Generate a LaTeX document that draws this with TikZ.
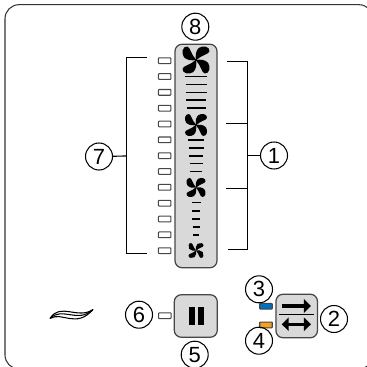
\documentclass[tikz,border=0pt]{standalone}
\usepackage{fontspec}
\setmainfont{Liberation Sans}
\usetikzlibrary{arrows.meta}
\definecolor{panelgray}{RGB}{217,217,217}
\definecolor{edgegray}{RGB}{70,70,70}
\definecolor{ledblue}{RGB}{0,112,192}
\definecolor{ledorange}{RGB}{245,160,30}
\tikzset{
  callout/.style={draw, circle, line width=0.6pt, minimum size=0.54cm, inner sep=0pt, font=\fontsize{12.5}{12.5}\selectfont},
  led/.style={draw=edgegray, fill=white, rectangle, rounded corners=0.4pt, line width=0.6pt, minimum width=0.25cm, minimum height=0.115cm, inner sep=0pt},
  panel/.style={draw=edgegray, fill=panelgray, rectangle, rounded corners=0.14cm, line width=0.7pt, inner sep=0pt},
  wire/.style={line width=0.65pt},
  arrowtip/.style={line width=2pt},
  fan/.pic={
    \foreach \a in {0,90,180,270}
      \fill[black, rotate=\a] (0,-0.02) .. controls (-0.06,-0.3) and (-0.02,-0.72) .. (0.22,-0.9) .. controls (0.52,-1.1) and (1.02,-1) .. (1,-0.66) .. controls (0.98,-0.42) and (0.36,-0.36) .. (0.04,0) -- cycle;
  }
}
\begin{document}
\begin{tikzpicture}[x=0.02cm, y=-0.02cm]
\clip (0,0) rectangle (367,367);
% outer frame runs past the image on the right and at the bottom
\draw[line width=0.6pt, rounded corners=0.28cm, black!80] (5,4.7) rectangle (373,369);

% fan speed panel
\node[panel, minimum width=0.84cm, minimum height=4.47cm] (speedpanel) at (196,156) {};
\pic[scale=13.5] at (196,60) {fan};
\pic[scale=11] at (196,125) {fan};
\pic[scale=9.5] at (196,187.5) {fan};
\pic[scale=7.5] at (196,250.5) {fan};
\foreach \y/\w in {76.7/11,84.5/10.5,92.3/10.5,100/10,108/9.5}
  \draw[wire] (196-\w,\y) -- (196+\w,\y);
\foreach \y/\w in {140/8,148/7.5,156/7,163.7/6.5,171.3/6}
  \draw[wire] (196-\w,\y) -- (196+\w,\y);
\foreach \y/\w in {202.7/4.5,211/4,219/4,227/3.5,235/3}
  \draw[wire] (196-\w,\y) -- (196+\w,\y);

% level leds
\foreach \i in {0,...,12}
  \node[led] (led\i) at (164.7,60.7+15.83*\i) {};

% left bracket
\coordinate (ltop) at (146.7,57.5);
\coordinate (lcornerA) at (126.5,57.5);
\coordinate (lcornerB) at (126.5,253.5);
\coordinate (lbot) at (146.7,253.5);
\coordinate (lmid) at (126.5,156);
\draw[wire] (ltop) -- (lcornerA) -- (lcornerB) -- (lbot);
\node[callout] (seven) at (99,156.5) {7};
\draw[wire] (seven) -- (lmid);

% right bracket
\coordinate (rtop) at (226.7,61.5);
\coordinate (rcornerA) at (247.5,61.5);
\coordinate (rcornerB) at (247.5,249.5);
\coordinate (rbot) at (228,249.5);
\coordinate (rtickA) at (226,123.5);
\coordinate (rjoinA) at (247.5,123.5);
\coordinate (rtickB) at (226,188.5);
\coordinate (rjoinB) at (247.5,188.5);
\coordinate (rmid) at (247.5,155.5);
\draw[wire] (rtop) -- (rcornerA) -- (rcornerB) -- (rbot);
\draw[wire] (rtickA) -- (rjoinA);
\draw[wire] (rtickB) -- (rjoinB);
\node[callout] (one) at (274,155.5) {1};
\draw[wire] (one) -- (rmid);

\node[callout] (eight) at (195.3,26.7) {8};

% air flow icon
\draw[line width=0.6pt] (50,318.5) .. controls (60,302) and (78,320) .. (93,309.5);
\draw[line width=0.6pt] (50,318.5) .. controls (62,306) and (78,324) .. (93,309.5);
\draw[line width=0.6pt] (50,318.5) .. controls (62,311) and (76,329) .. (93,309.5);

% pause button
\node[panel, minimum width=0.86cm, minimum height=0.85cm] (pausebtn) at (195.8,316) {};
\fill (189.3,307.3) rectangle (195.4,325);
\fill (198,307.3) rectangle (204,325);
\node[led] (pauseled) at (164.8,315.7) {};
\node[callout] (six) at (139,314.7) {6};
\node[callout] (five) at (194.7,354.7) {5};

% mode button
\node[panel, minimum width=0.83cm, minimum height=0.87cm] (modebtn) at (296.7,316) {};
\coordinate (divA) at (279,314.5);
\coordinate (divB) at (313.5,314.5);
\draw[wire] (divA) -- (divB);
\coordinate (arrowA) at (281.7,306);
\coordinate (arrowB) at (311,306);
\coordinate (arrowC) at (281.7,324.3);
\coordinate (arrowD) at (311,324.3);
\draw[arrowtip, -{Triangle[length=4pt,width=7.5pt]}] (arrowA) -- (arrowB);
\draw[arrowtip, {Triangle[length=4pt,width=7.5pt]}-{Triangle[length=4pt,width=7.5pt]}] (arrowC) -- (arrowD);
\node[led, fill=ledblue] (blueled) at (266,306.2) {};
\node[led, fill=ledorange] (orangeled) at (266,324.9) {};
\node[callout] (three) at (259,289.3) {3};
\node[callout] (four) at (259,340.7) {4};
\node[callout] (two) at (334,319) {2};
\end{tikzpicture}
\end{document}
